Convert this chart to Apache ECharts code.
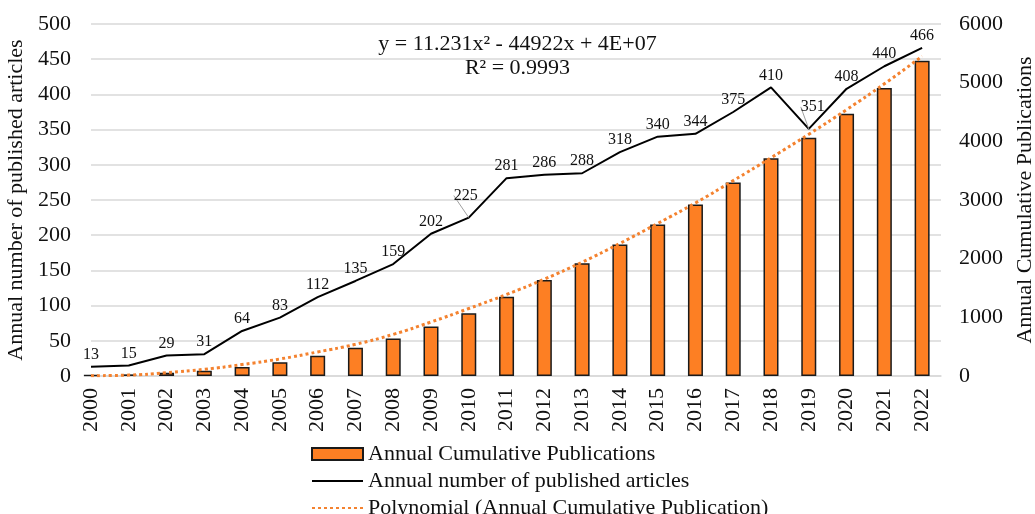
<!DOCTYPE html>
<html>
<head>
<meta charset="utf-8">
<script src="https://cdn.jsdelivr.net/npm/echarts@6/dist/echarts.min.js"></script>
<style>
  html, body { margin: 0; padding: 0; background: #fff; overflow: hidden; }
  #chart { width: 1035px; height: 514px; }
</style>
</head>
<body>
<div id="chart"></div>
<script>
// Publication years (x positions) and their tick labels
const years = [2000, 2001, 2002, 2003, 2004, 2005, 2006, 2007, 2008, 2009, 2010, 2011,
               2012, 2013, 2014, 2015, 2016, 2017, 2018, 2019, 2020, 2021, 2022];
const yearLabels = ['2000', '2001', '2002', '2003', '2004', '2005', '2006', '2007', '2008', '2009', '2010', '2011',
                    '2012', '2013', '2014', '2015', '2016', '2017', '2018', '2019', '2020', '2021', '2022'];

// Articles published each year (left axis)
const annualArticles = [13, 15, 29, 31, 64, 83, 112, 135, 159, 202, 225, 281,
                        286, 288, 318, 340, 344, 375, 410, 351, 408, 440, 466];

// Running total of publications (right axis)
const cumulativePublications = [13, 28, 57, 88, 152, 235, 347, 482, 641, 843, 1068, 1349,
                                1635, 1923, 2241, 2581, 2925, 3300, 3710, 4061, 4469, 4909, 5375];

// Polynomial trend curve through the running total (right axis)
const polynomialTrend = [5, 15, 57, 114, 195, 290, 410, 540, 710, 920, 1150, 1390,
                         1650, 1940, 2260, 2600, 2950, 3330, 3720, 4120, 4540, 4980, 5450];

// Tick values for both y axes
const leftTicks = [0, 50, 100, 150, 200, 250, 300, 350, 400, 450, 500];
const rightTicks = [0, 1000, 2000, 3000, 4000, 5000, 6000];

const FONT = "'Liberation Serif', 'Times New Roman', serif";
const ORANGE = '#fd7f23';
const TREND = '#f4822f';
const TEXT = '#111';

const pairs = (vals) => years.map((y, i) => [y, vals[i]]);

// value labels lifted off the line, joined back to their point by a leader
const liftedLabels = { 2010: [-3, -10], 2019: [4, -10] };
const nudgedLabels = { 2002: [4, 0] };

const chart = echarts.init(document.getElementById('chart'), null, { renderer: 'canvas' });

chart.setOption({
  animation: false,
  backgroundColor: '#ffffff',
  textStyle: { fontFamily: FONT, color: TEXT },
  grid: { left: 91, right: 94, top: 24, bottom: 138, containLabel: false, outerBoundsMode: 'none' },
  xAxis: {
    type: 'value',
    min: years[0],
    max: years[years.length - 1] + 0.5,
    interval: 1,
    axisLine: { show: true, lineStyle: { color: '#d9d9d9', width: 1.5 } },
    axisTick: { show: false },
    splitLine: { show: false },
    axisLabel: {
      rotate: 90,
      margin: 12,
      fontSize: 22,
      fontFamily: FONT,
      color: TEXT,
      showMaxLabel: false,
      formatter: (v) => {
        const i = years.indexOf(v);
        return i >= 0 ? yearLabels[i] : '';
      }
    }
  },
  yAxis: [
    {
      type: 'value',
      min: leftTicks[0],
      max: leftTicks[leftTicks.length - 1],
      interval: leftTicks[1] - leftTicks[0],
      name: 'Annual number of published articles',
      nameLocation: 'middle',
      nameRotate: 90,
      nameGap: 52,
      nameTextStyle: { fontSize: 22, fontFamily: FONT, color: TEXT },
      axisLine: { show: false },
      axisTick: { show: false },
      axisLabel: { fontSize: 22, fontFamily: FONT, color: TEXT, margin: 20, formatter: (v) => String(v) },
      splitLine: { show: true, lineStyle: { color: '#d9d9d9', width: 1.5 } }
    },
    {
      type: 'value',
      min: rightTicks[0],
      max: rightTicks[rightTicks.length - 1],
      interval: rightTicks[1] - rightTicks[0],
      name: 'Annual Cumulative Publications',
      nameLocation: 'middle',
      nameRotate: 90,
      nameGap: 71,
      nameTextStyle: { fontSize: 22, fontFamily: FONT, color: TEXT },
      axisLine: { show: false },
      axisTick: { show: false },
      axisLabel: { fontSize: 22, fontFamily: FONT, color: TEXT, margin: 18, formatter: (v) => String(v) },
      splitLine: { show: false }
    }
  ],
  legend: {
    orient: 'vertical',
    left: 311,
    top: 443,
    height: 100,
    padding: 0,
    itemWidth: 51,
    itemHeight: 12,
    itemGap: 5,
    textStyle: { fontSize: 22, fontFamily: FONT, color: TEXT },
    data: [
      { name: 'Annual Cumulative Publications', icon: 'rect' },
      { name: 'Annual number of published articles', itemStyle: { opacity: 0 } },
      { name: 'Polynomial (Annual Cumulative Publication)', itemStyle: { opacity: 0 } }
    ]
  },
  graphic: [
    {
      type: 'text',
      left: 'center',
      top: 33,
      style: {
        text: 'y = 11.231x² - 44922x + 4E+07',
        font: '22px ' + FONT,
        fill: TEXT
      }
    },
    {
      type: 'text',
      left: 'center',
      top: 57,
      style: {
        text: 'R² = 0.9993',
        font: '22px ' + FONT,
        fill: TEXT
      }
    }
  ],
  series: [
    {
      name: 'Annual Cumulative Publications',
      type: 'bar',
      yAxisIndex: 1,
      barWidth: 15,
      clip: false,
      data: pairs(cumulativePublications),
      itemStyle: { color: ORANGE, borderColor: '#1a1a1a', borderWidth: 1.5 },
      z: 2
    },
    {
      name: 'Polynomial (Annual Cumulative Publication)',
      type: 'line',
      yAxisIndex: 1,
      symbol: 'none',
      smooth: true,
      data: pairs(polynomialTrend),
      lineStyle: { color: TREND, width: 3, type: [3, 3] },
      itemStyle: { color: TREND },
      z: 3
    },
    {
      name: 'Annual number of published articles',
      type: 'line',
      yAxisIndex: 0,
      symbol: 'circle',
      symbolSize: 0,
      showSymbol: true,
      data: years.map((y, i) => {
        const item = { value: [y, annualArticles[i]] };
        if (nudgedLabels[y]) item.label = { offset: nudgedLabels[y] };
        if (liftedLabels[y]) {
          item.labelLine = { show: true, lineStyle: { color: '#a0a0a0', width: 1 } };
        }
        return item;
      }),
      lineStyle: { color: '#000', width: 2 },
      itemStyle: { color: '#000' },
      label: {
        show: true,
        position: 'top',
        distance: 4,
        fontSize: 16,
        fontFamily: FONT,
        color: TEXT,
        formatter: (p) => String(p.value[1])
      },
      labelLine: { show: false },
      labelLayout: (params) => {
        const lift = liftedLabels[years[params.dataIndex]];
        return lift ? { dx: lift[0], dy: lift[1], hideOverlap: false } : { hideOverlap: false };
      },
      z: 4
    }
  ]
});
</script>
</body>
</html>
